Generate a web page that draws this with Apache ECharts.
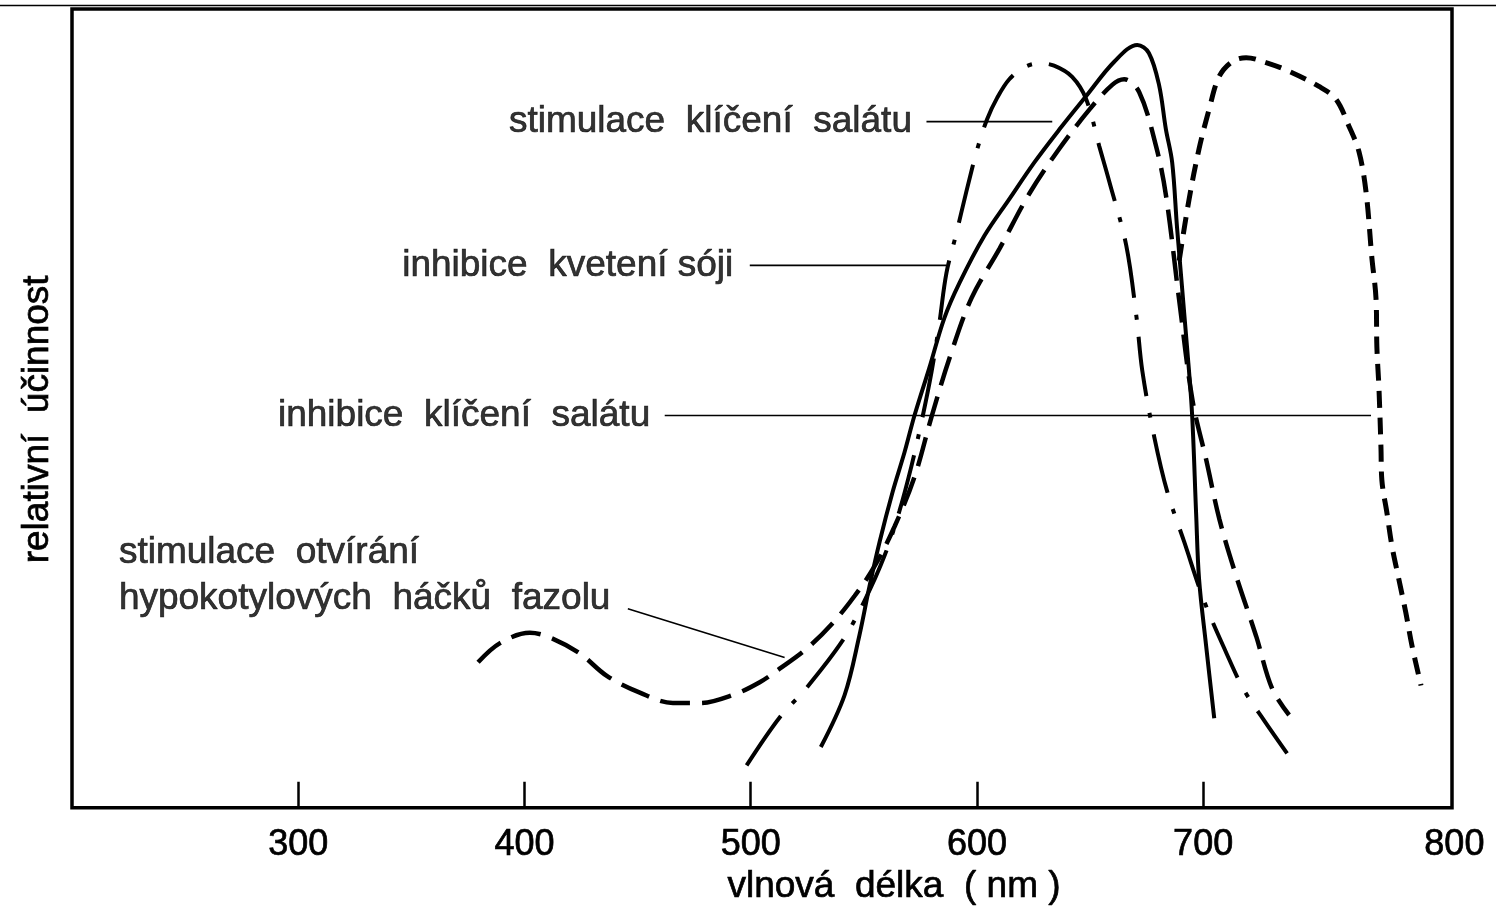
<!DOCTYPE html>
<html>
<head>
<meta charset="utf-8">
<script src="https://cdn.jsdelivr.net/npm/echarts@6/dist/echarts.min.js"></script>
<style>
html,body{margin:0;padding:0;background:#fff;}
#chart{width:1496px;height:911px;}
</style>
</head>
<body>
<div id="chart"></div>
<script>
// ---- data (wavelength nm, relative effectiveness 0-100) ----
const xTickLabels = [300, 400, 500, 600, 700, 800];
const xTicks = [300, 400, 500, 600, 700];

// stimulace klíčení salátu (solid)
const lettuceStimNm  = [531,541.5,548,552.5,557,562.7,568,572.4,579,585.6,592.3,603.3,614.3,625.4,636.4,648.3,660.7,670.9,676,680.5,683.5,686.3,688.5,692.9,695.1,696.9,698.2,701.3,704.9];
const lettuceStimVal = [7.6,14.1,21.5,27.7,33.3,39.5,44.5,49.1,55.1,61.3,65.7,71.6,76.2,80.8,84.9,89.1,93.4,95.5,94.5,90.5,85,80.8,72.5,57.6,49.3,36.8,28.6,20.3,11.2];

// stimulace otvírání hypokotylových háčků fazolu (long dashes)
const beanHookNm  = [379.5,389.2,402.4,411.3,424.5,436.4,451,465.6,477.5,492.1,504,512.8,524.7,536.2,545.9,554.7,563.6,572.4,579.9,587.9,597.6,610,623.2,636.4,649.7,659.8,665.1,671.7,679.2,683.6,689.3,695.3,701.4,707.2,714.6,723.4,730.5,738];
const beanHookVal = [18.2,20.6,21.9,21.3,19.3,16.5,14.4,13.1,13.1,14.1,15.7,17.4,19.9,23.1,26.5,30.2,35.2,41.4,48.9,56.3,63.8,70,76.9,82.5,87.4,90.5,91.2,89.6,82.8,76.6,63.8,51,43.5,36.1,29,21.5,14.9,11.6];

// inhibice kvetení sóji (dash-dot)
const soyNm  = [498.2,512.8,524.7,540.6,550.3,559.1,565.7,571,575.5,579.9,583.4,586.5,590.9,595.3,600.2,604.5,609,614.3,620.9,627.5,634.1,642.1,648.3,654.1,658.5,666,670.5,673.1,678.4,684.1,691.6,700.4,710.2,718.1,727,737.1];
const soyVal = [5.3,11.3,15,20.9,25.9,31.5,37.1,42.7,48.3,54.5,60.7,66.9,71.9,77.1,82.5,86.2,88.9,91.2,92.7,93.2,92.9,91.5,88.7,82.8,78.4,70.4,61.5,54.7,46.4,39.6,33.3,25.9,19.4,14.7,10.9,6.8];

// inhibice klíčení salátu (short dashes)
const lettuceInhNm  = [689.4,693.8,698.2,702.6,707,712.8,719,727.8,738,751.2,758.7,764.5,768.9,772,774.6,776.4,776.8,777.7,778.6,779,781.3,783.5,786.5,789.6,792.3,796.3];
const lettuceInhVal = [68.5,76.2,82.5,87.4,91.5,93.4,93.9,93.3,92.2,90.3,88.7,85.3,82.1,77.1,68.8,63.8,57.6,52.6,45.1,41,36.8,32.7,28.6,24.4,20.3,15.3];

// annotation texts and leader lines [start, end] in data units
const annoTexts = ['stimulace  klíčení  salátu', 'inhibice  kvetení sóji', 'inhibice  klíčení  salátu', 'stimulace  otvírání\nhypokotylových  háčků  fazolu'];
const leaderStimNm = [577.7, 633.3], leaderStimVal = [85.9, 85.9];
const leaderSoyNm  = [499.6, 586.5], leaderSoyVal  = [67.9, 67.9];
const leaderInhNm  = [462.0, 774.2], leaderInhVal  = [49.1, 49.1];
const leaderBeanNm = [445.7, 515.0], leaderBeanVal = [24.9, 18.8];
const beanTextAnchor = [220.5, 29.0];

const zip = (a, b) => a.map((v, i) => [v, b[i]]);
const FONT = '"Liberation Sans", Arial, Helvetica, sans-serif';
const txt = {fontFamily: FONT, fontSize: 37, color: '#000', textBorderColor: '#000', textBorderWidth: 0.7};
const tickTxt = Object.assign({}, txt, {fontSize: 36});

const chart = echarts.init(document.getElementById('chart'), null, {renderer: 'canvas'});

function leader(nm, val) {
  return {type: 'line', data: zip(nm, val), symbol: 'none', silent: true,
    lineStyle: {color: '#000', width: 1.6}, z: 1};
}

const labelItems = [
  {value: [leaderStimNm[0], leaderStimVal[0]], label: Object.assign({show: true, formatter: annoTexts[0], position: 'left', distance: 14}, txt)},
  {value: [leaderSoyNm[0], leaderSoyVal[0]], label: Object.assign({show: true, formatter: annoTexts[1], position: 'left', distance: 16}, txt)},
  {value: [leaderInhNm[0], leaderInhVal[0]], label: Object.assign({show: true, formatter: annoTexts[2], position: 'left', distance: 14}, txt)},
  {value: beanTextAnchor, label: Object.assign({show: true, formatter: annoTexts[3], position: 'right', distance: 0, align: 'left', verticalAlign: 'middle', lineHeight: 46}, txt)}
];

const option = {
  animation: false,
  backgroundColor: '#fff',
  grid: {left: 72, right: 44, top: 9, bottom: 98, show: true, borderColor: '#000', borderWidth: 3.5, backgroundColor: 'transparent'},
  xAxis: {
    type: 'value', min: 200, max: 810, interval: 100,
    name: 'vlnová  délka  ( nm )', nameLocation: 'middle', nameGap: 61,
    nameTextStyle: Object.assign({padding: [0, 0, 0, 264]}, txt),
    axisLine: {show: true, onZero: false, lineStyle: {color: '#000', width: 2}},
    axisTick: {show: true, inside: true, length: 26, customValues: xTicks, lineStyle: {color: '#000', width: 2.5}},
    axisLabel: Object.assign({show: true, customValues: xTickLabels, margin: 19,
      formatter: v => (v === 800 ? '{r|800}' : String(v)),
      rich: {r: Object.assign({padding: [0, 0, 0, 50]}, tickTxt)}}, tickTxt),
    splitLine: {show: false}
  },
  yAxis: {
    type: 'value', min: 0, max: 100,
    name: 'relativní  účinnost', nameLocation: 'middle', nameGap: 16,
    nameTextStyle: Object.assign({padding: [0, 22, 0, 0]}, txt),
    axisLine: {show: false}, axisTick: {show: false}, axisLabel: {show: false}, splitLine: {show: false}
  },
  graphic: [{type: 'line', shape: {x1: 0, y1: 5.5, x2: 1496, y2: 5.5}, style: {stroke: '#000', lineWidth: 1.6}}],
  series: [
    {name: 'stimulace klíčení salátu', type: 'line', data: zip(lettuceStimNm, lettuceStimVal), smooth: 0.35, symbol: 'none',
      lineStyle: {color: '#000', width: 4, type: 'solid'}},
    {name: 'stimulace otvírání hypokotylových háčků fazolu', type: 'line', data: zip(beanHookNm, beanHookVal), smooth: 0.35, symbol: 'none',
      lineStyle: {color: '#000', width: 4.5, type: [30, 12]}},
    {name: 'inhibice kvetení sóji', type: 'line', data: zip(soyNm, soyVal), smooth: 0.35, symbol: 'none',
      lineStyle: {color: '#000', width: 4, type: [60, 17, 5, 17]}},
    {name: 'inhibice klíčení salátu', type: 'line', data: zip(lettuceInhNm, lettuceInhVal), smooth: 0.35, symbol: 'none',
      lineStyle: {color: '#000', width: 5, type: [17, 10]}},
    leader(leaderStimNm, leaderStimVal),
    leader(leaderSoyNm, leaderSoyVal),
    leader(leaderInhNm, leaderInhVal),
    leader(leaderBeanNm, leaderBeanVal),
    {type: 'scatter', data: labelItems, symbolSize: 1, silent: true,
      itemStyle: {color: 'rgba(0,0,0,0)'}, emphasis: {disabled: true}}
  ]
};
chart.setOption(option);
</script>
</body>
</html>
